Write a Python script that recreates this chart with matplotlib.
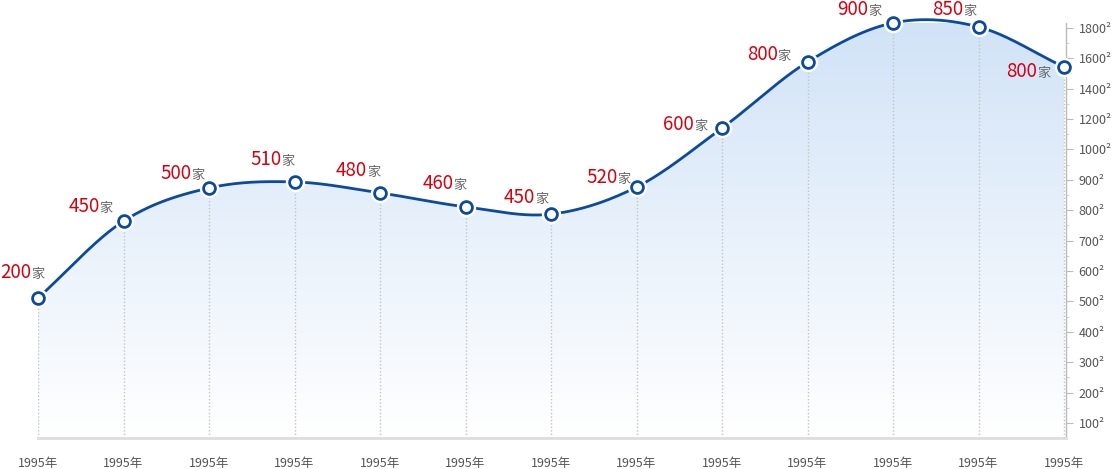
import numpy as np
import matplotlib
matplotlib.use('Agg')
import matplotlib.pyplot as plt

plt.rcParams['font.family'] = ['Noto Sans CJK SC', 'DejaVu Sans']

# data
years = ['1995年'] * 13
values = [511, 764, 873, 893, 857, 811, 787, 876, 1140, 1575, 1832, 1806, 1542]
counts = [200, 450, 500, 510, 480, 460, 450, 520, 600, 800, 900, 850, 800]
tick_vals = [100, 200, 300, 400, 500, 600, 700, 800, 900, 1000, 1200, 1400, 1600, 1800]

# label offsets in pixels (right edge of label, baseline above point)
lab_dx = [6, -11, -5, 0, 0, 1, -3, -6, -15, -17, -12, -2, -14]
lab_dy = [20, 9, 9, 17, 17, 18, 11, 4, -2, 2, 8, 12, -10]

# piecewise axis: evenly spaced ticks
knots_v = np.array([0] + tick_vals + [2000], dtype=float)
knots_k = np.arange(-1, len(tick_vals) + 1, dtype=float)


def fwd(v):
    return np.interp(v, knots_v, knots_k)


def inv(k):
    return np.interp(k, knots_k, knots_v)


x = np.arange(len(values))
k = fwd(np.array(values, dtype=float))

# cardinal (catmull-rom) spline in display space
m = np.zeros_like(k)
m[1:-1] = (k[2:] - k[:-2]) / 2
m[0] = k[1] - k[0]
m[-1] = k[-1] - k[-2]
xs, ks = [], []
for i in range(len(k) - 1):
    t = np.linspace(0, 1, 40, endpoint=False)
    h00 = 2 * t**3 - 3 * t**2 + 1
    h10 = t**3 - 2 * t**2 + t
    h01 = -2 * t**3 + 3 * t**2
    h11 = t**3 - t**2
    xs.append(x[i] + t)
    ks.append(h00 * k[i] + h10 * m[i] + h01 * k[i + 1] + h11 * m[i + 1])
xs.append([x[-1]])
ks.append([k[-1]])
xs = np.concatenate(xs)
ys = inv(np.concatenate(ks))

W, H = 1112, 469
fig = plt.figure(figsize=(W / 100, H / 100), dpi=100, facecolor='white')
ax = fig.add_axes([38 / W, 1 - 438 / H, (1066 - 38) / W, (438 - 23) / H])
ax.set_yscale('function', functions=(fwd, inv))
ybot = inv((423 - 438) / 30.4)
ytop = inv((423 - 23) / 30.4)
ax.set_xlim(0, 12 + 2 / 85.5)
ax.set_ylim(ybot, ytop)

# gradient fill under the curve
poly = ax.fill_between(xs, ys, ybot, facecolor='none', edgecolor='none')
c_top = np.array([0.82, 0.89, 0.97])
c_bot = np.array([1.0, 1.0, 1.0])
g = np.linspace(0, 1, 256)[:, None]
grad = (c_top * (1 - g) + c_bot * g)[:, None, :]
im = ax.imshow(grad, extent=[0, 1, 0, 1], transform=ax.transAxes,
               aspect='auto', zorder=1)
im.set_clip_path(poly.get_paths()[0], transform=ax.transData)

# vertical dotted guides
ax.vlines(x, ybot, values, colors='#c4c4c4', linestyles=(0, (1, 1.5)),
          linewidth=1, zorder=2)

ax.plot(xs, ys, color='#0b4a9e', lw=2, zorder=3, clip_on=False)
ax.plot(x, values, 'o', ms=13, color='white', zorder=4, clip_on=False)
ax.plot(x, values, 'o', ms=8.5, mfc='white', mec='#0b4a9e', mew=2,
        zorder=5, clip_on=False)

for i in range(len(values)):
    ax.annotate('家', (x[i], values[i]), xytext=(lab_dx[i], lab_dy[i]),
                textcoords='offset pixels', ha='right', va='baseline',
                fontsize=9.5, color='#666666', annotation_clip=False, zorder=6)
    ax.annotate(str(counts[i]), (x[i], values[i]),
                xytext=(lab_dx[i] - 13, lab_dy[i]),
                textcoords='offset pixels', ha='right', va='baseline',
                fontsize=13.5, color='#d7000f', annotation_clip=False, zorder=6)

# axes styling
for s in ['top', 'left']:
    ax.spines[s].set_visible(False)
ax.spines['bottom'].set_color('#dddddd')
ax.spines['bottom'].set_linewidth(2)
ax.spines['right'].set_color('#bbbbbb')
ax.spines['right'].set_linestyle((0, (1, 1)))
ax.spines['right'].set_linewidth(1)

ax.set_xticks(x)
ax.set_xticklabels(years, fontsize=9, color='#555555')
ax.tick_params(axis='x', length=0, pad=14)

ax.yaxis.tick_right()
ax.set_yticks(tick_vals)
ax.set_yticklabels([f'{v}²' for v in tick_vals], fontsize=9, color='#555555')
mids = inv(np.arange(len(tick_vals) - 1) + 0.5)
ax.set_yticks(mids, minor=True)
ax.tick_params(axis='y', which='major', length=5, color='#bbbbbb', pad=4)
ax.tick_params(axis='y', which='minor', length=2.5, color='#cccccc')

fig.savefig('out.png', dpi=100, facecolor='white')
